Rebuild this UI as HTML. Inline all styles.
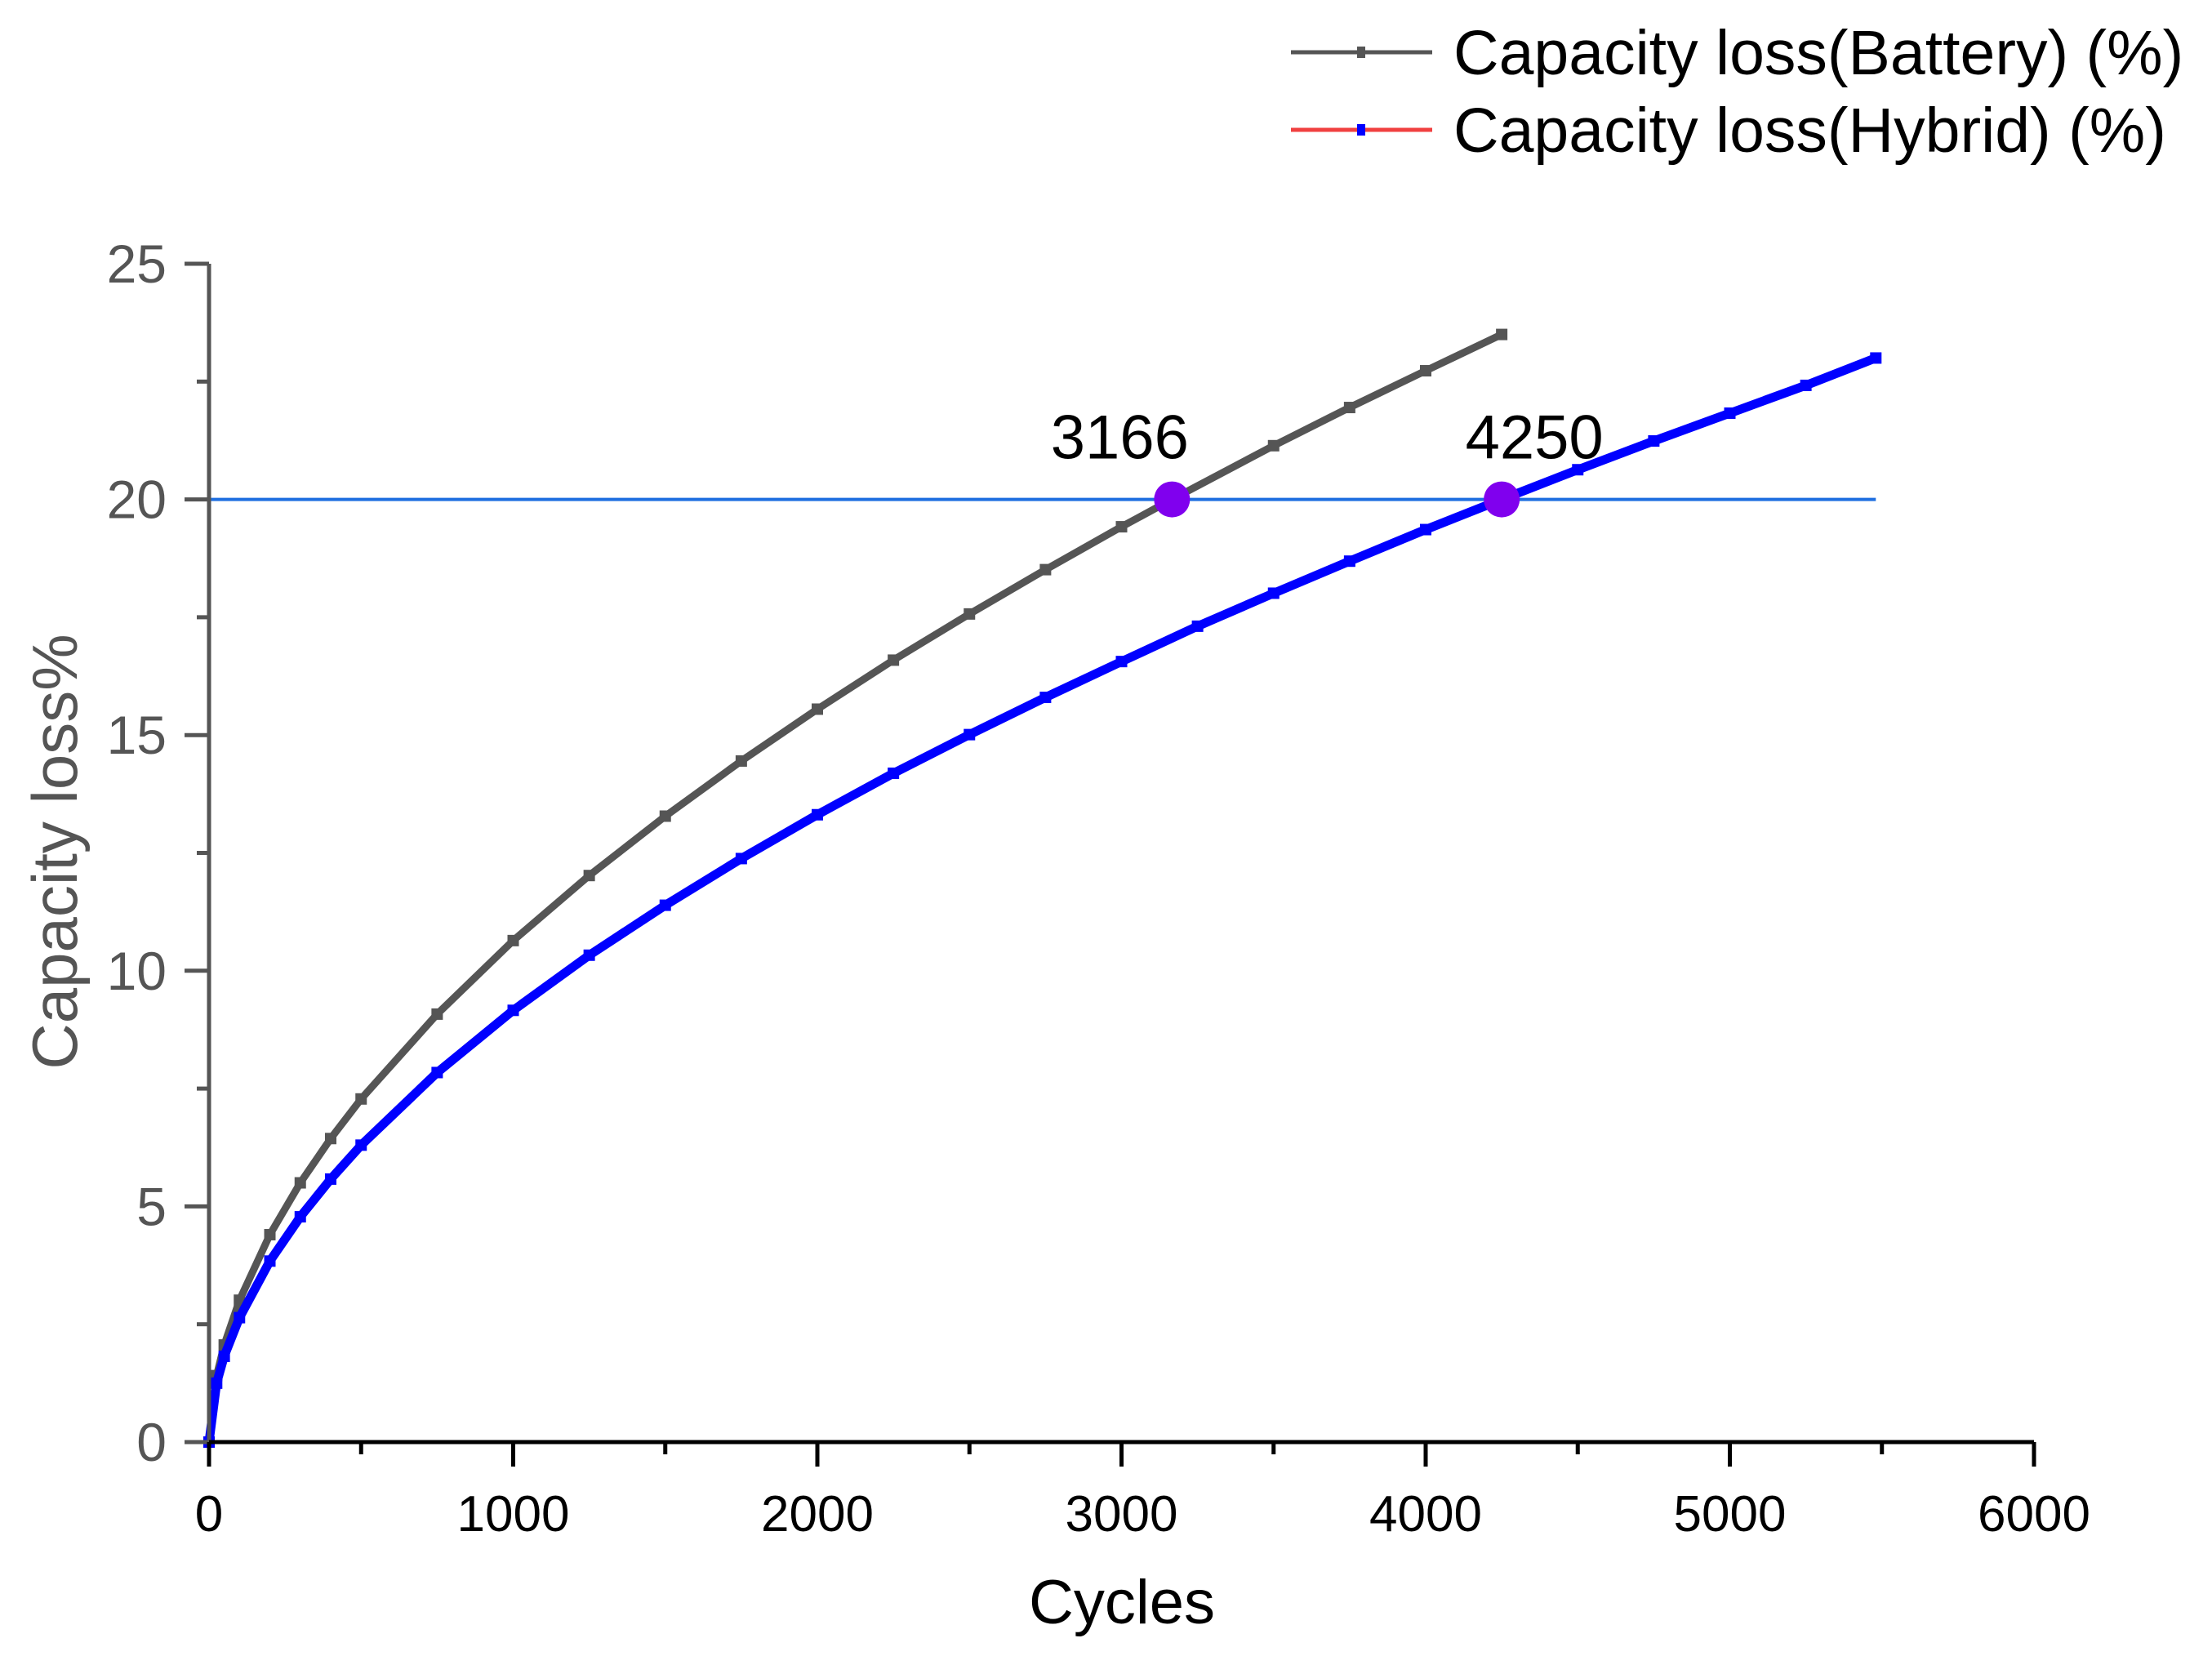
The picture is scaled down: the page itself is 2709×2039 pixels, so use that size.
<!DOCTYPE html>
<html><head><meta charset="utf-8"><style>
html,body{margin:0;padding:0;background:#fff;}
svg{display:block;font-family:"Liberation Sans",Arial,sans-serif;}
</style></head><body>
<svg id="chart" width="2709" height="2039" viewBox="0 0 2709 2039" xmlns="http://www.w3.org/2000/svg">
<rect width="2709" height="2039" fill="#fff"/>
<g id="series"></g>
<g id="axes"></g>
<g id="legend">
  <line x1="1581" y1="64" x2="1754" y2="64" stroke="#555" stroke-width="5"/>
  <rect x="1662" y="57" width="10" height="14" fill="#555"/>
  <text x="1780" y="91" font-size="77" fill="#000">Capacity loss(Battery) (%)</text>
  <line x1="1581" y1="159" x2="1754" y2="159" stroke="#f04040" stroke-width="5"/>
  <rect x="1662" y="152" width="10" height="14" fill="#0000ff"/>
  <text x="1780" y="186" font-size="77" fill="#000">Capacity loss(Hybrid) (%)</text>
</g>
<text x="1374" y="1988" font-size="76" text-anchor="middle" fill="#000">Cycles</text>
<text transform="translate(94,1043) rotate(-90)" font-size="78" text-anchor="middle" fill="#555">Capacity loss%</text>
</svg>
<script>
const batteryCycles = [0,25,50,100,200,300,400,500,750,1000,1250,1500,1750,2000,2250,2500,2750,3000,3166,3500,3750,4000,4250];
const batteryLoss   = [0,1.41,2.06,3.01,4.40,5.50,6.44,7.28,9.08,10.64,12.02,13.28,14.45,15.55,16.59,17.57,18.51,19.42,20,21.14,21.95,22.73,23.5];
const hybridCycles = [0,25,50,100,200,300,400,500,750,1000,1250,1500,1750,2000,2250,2500,2750,3000,3250,3500,3750,4000,4250,4500,4750,5000,5250,5480];
const hybridLoss   = [0,1.25,1.82,2.64,3.84,4.78,5.58,6.30,7.84,9.16,10.33,11.39,12.38,13.31,14.19,15.01,15.80,16.56,17.31,18.01,18.69,19.36,20,20.63,21.24,21.83,22.42,23.0];
const thresholdValue = 20;
const thresholdEnd = 5480;
const crossCycles = [3166, 4250];
const crossLabels = ["3166", "4250"];
const xTicks = [0,1000,2000,3000,4000,5000,6000];
const yTicks = [0,5,10,15,20,25];

const X0=256, X1=2491, Y0=1766, Y1=323;
function sx(v){return X0+(v-0)/(6000-0)*(X1-X0);}
function sy(v){return Y0-(v-0)/(25-0)*(Y0-Y1);}
const NS="http://www.w3.org/2000/svg";
function mk(tag,attrs,parent){const e=document.createElementNS(NS,tag);for(const k in attrs)e.setAttribute(k,attrs[k]);parent.appendChild(e);return e;}
const series=document.getElementById('series'), axes=document.getElementById('axes');

let th=mk('line',{x1:sx(0),y1:sy(thresholdValue),x2:sx(thresholdEnd),y2:sy(thresholdValue),stroke:'#1f6fe0','stroke-width':4},series);



function drawSeries(xs,ys,color,width,marker,name){
  const pts=xs.map((x,i)=>sx(x).toFixed(1)+','+sy(ys[i]).toFixed(1)).join(' ');
  const pl=mk('polyline',{points:pts,fill:'none',stroke:color,'stroke-width':width,'stroke-linejoin':'round'},series);
  
  
  xs.forEach((x,i)=>{
    const r=mk('rect',{x:sx(x)-7,y:sy(ys[i])-7,width:14,height:14,fill:marker},series);
    
    
  });
}
drawSeries(batteryCycles,batteryLoss,'#555',9,'#555','battery');
drawSeries(hybridCycles,hybridLoss,'#0000ff',11,'#0000ff','hybrid');

const labelShift=[-64,40];
crossCycles.forEach((c,i)=>{
  const ci=mk('circle',{cx:sx(c),cy:sy(thresholdValue),r:22,fill:'#8000ee'},series);
  
  
  const t=mk('text',{x:sx(c)+labelShift[i],y:sy(thresholdValue)-50,'font-size':76,'text-anchor':'middle',fill:'#000'},series);
  t.textContent=crossLabels[i];
  
  
});

let ya=mk('line',{x1:X0,y1:Y0,x2:X0,y2:Y1,stroke:'#555','stroke-width':5},axes);


let xa=mk('line',{x1:X0-2,y1:Y0,x2:X1,y2:Y0,stroke:'#000','stroke-width':5},axes);


yTicks.forEach(v=>{
  const y=sy(v);
  const tk=mk('line',{x1:X0-30,y1:y,x2:X0,y2:y,stroke:'#555','stroke-width':5},axes);
  
  
  if(v<25){const m=mk('line',{x1:X0-15,y1:sy(v+2.5),x2:X0,y2:sy(v+2.5),stroke:'#555','stroke-width':5},axes);
  
  }
  const t=mk('text',{x:204,y:y+23,'font-size':66,'text-anchor':'end',fill:'#555'},axes);
  t.textContent=v;
  
  
});
xTicks.forEach(v=>{
  const x=sx(v);
  const tk=mk('line',{x1:x,y1:Y0,x2:x,y2:Y0+30,stroke:'#000','stroke-width':5},axes);
  
  
  if(v<6000){const m=mk('line',{x1:sx(v+500),y1:Y0,x2:sx(v+500),y2:Y0+15,stroke:'#000','stroke-width':5},axes);
  
  }
  const t=mk('text',{x:x,y:1875,'font-size':62,'text-anchor':'middle',fill:'#000'},axes);
  t.textContent=v;
  
  
});
</script>
</body></html>
